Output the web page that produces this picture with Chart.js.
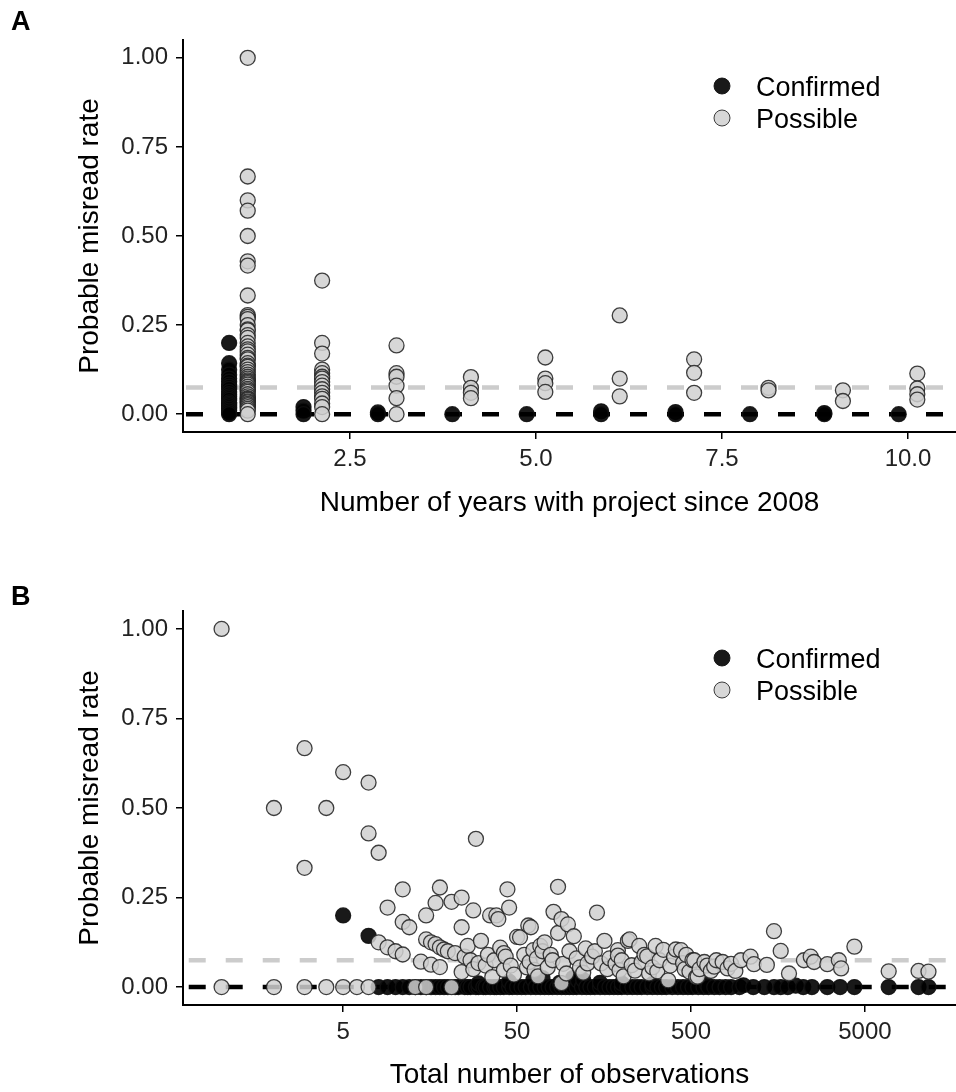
<!DOCTYPE html>
<html>
<head>
<meta charset="utf-8">
<title>Probable misread rate</title>
<script src="https://cdn.jsdelivr.net/npm/chart.js@4.4.1/dist/chart.umd.min.js"></script>
<style>
  html, body { margin: 0; padding: 0; background: #fff; }
  canvas { display: block; }
</style>
</head>
<body>
<canvas id="panel-a" width="956" height="546"></canvas>
<canvas id="panel-b" width="956" height="546"></canvas>
<script>
// ---------- data ----------
// A: misread rate per observer, grouped by number of years with the project
const years = [1, 2, 3, 4, 5, 6, 7, 8, 9, 10];
const confirmedByYear = [
  [0.2, 0.143, 0.125, 0.111, 0.1, 0.091, 0.083, 0.077, 0.071, 0.0625, 0.056, 0.05, 0.045, 0.04, 0.033, 0.029, 0.025, 0.02, 0.015, 0.01, 0.005, 0],
  [0.02, 0.01, 0],
  [0.005, 0],
  [0],
  [0],
  [0.008, 0],
  [0.006, 0],
  [0],
  [0.003, 0],
  [0]
];
const possibleByYear = [
  [1.0, 0.667, 0.6, 0.571, 0.5, 0.429, 0.417, 0.333, 0.278, 0.273, 0.267, 0.25, 0.238, 0.235, 0.222, 0.214,
   0.2, 0.19, 0.182, 0.176, 0.167, 0.158, 0.154, 0.143, 0.136, 0.133, 0.125, 0.118, 0.111, 0.105, 0.1, 0.095,
   0.091, 0.087, 0.083, 0.077, 0.071, 0.067, 0.0625, 0.056, 0.05, 0.045, 0.043, 0.04, 0.036, 0.033, 0.029,
   0.025, 0.02, 0.015, 0.01, 0],
  [0.375, 0.2, 0.17, 0.125, 0.115, 0.105, 0.1, 0.09, 0.08, 0.07, 0.06, 0.05, 0.043, 0.03, 0.02, 0],
  [0.193, 0.115, 0.105, 0.08, 0.045, 0],
  [0.104, 0.074, 0.06, 0.045],
  [0.159, 0.1, 0.087, 0.0625],
  [0.277, 0.1, 0.05],
  [0.154, 0.116, 0.06],
  [0.074, 0.0667],
  [0.067, 0.037],
  [0.114, 0.072, 0.056, 0.041]
];

// B: misread rate per observer against total observations [observations, rate]
const confirmedByObs = [
  [5, 0.2], [7, 0.143],
  [8, 0], [9, 0], [10, 0], [11, 0], [12, 0], [13, 0], [14, 0], [15, 0], [16, 0], [17, 0], [18, 0], [19, 0],
  [20, 0], [22, 0], [23, 0], [25, 0], [26, 0], [27, 0], [29, 0], [30, 0], [30, 0.01], [32, 0], [33, 0], [35, 0],
  [37, 0], [38, 0], [40, 0], [42, 0], [45, 0], [45, 0.015], [47, 0], [50, 0], [53, 0], [56, 0], [60, 0],
  [62, 0.02], [64, 0], [68, 0], [70, 0.025], [72, 0], [76, 0], [80, 0], [85, 0], [88, 0.012], [90, 0], [95, 0],
  [100, 0], [105, 0], [105, 0.025], [110, 0], [112, 0.018], [118, 0], [120, 0.02], [125, 0], [132, 0],
  [140, 0], [150, 0], [150, 0.012], [160, 0], [170, 0], [180, 0], [190, 0], [200, 0], [200, 0.01], [215, 0],
  [230, 0], [245, 0], [260, 0], [280, 0], [300, 0], [300, 0.008], [320, 0], [340, 0], [360, 0], [390, 0],
  [420, 0], [450, 0], [480, 0], [510, 0], [550, 0], [590, 0], [620, 0.006], [630, 0], [680, 0], [730, 0],
  [790, 0], [850, 0], [950, 0], [1000, 0.005], [1140, 0], [1320, 0], [1500, 0], [1640, 0], [1800, 0],
  [2000, 0.004], [2210, 0], [2480, 0], [3040, 0], [3600, 0], [4350, 0], [6850, 0], [10170, 0], [11600, 0]
];
const possibleByObs = [
  [1, 1.0], [1, 0], [2, 0.5], [2, 0], [3, 0.667], [3, 0.333], [3, 0], [4, 0.5], [4, 0], [5, 0.6], [5, 0],
  [6, 0], [7, 0.571], [7, 0.429], [7, 0], [8, 0.375], [8, 0.125], [9, 0.222], [9, 0.111], [10, 0.1],
  [11, 0.273], [11, 0.182], [11, 0.091], [12, 0.167], [13, 0], [14, 0.071], [15, 0.2], [15, 0.133], [15, 0],
  [16, 0.125], [16, 0.0625], [17, 0.235], [17, 0.12], [18, 0.278], [18, 0.111], [18, 0.056], [19, 0.105],
  [20, 0.1], [21, 0.238], [21, 0], [22, 0.095], [24, 0.25], [24, 0.167], [24, 0.042], [25, 0.085],
  [26, 0.115], [27, 0.075], [28, 0.214], [28, 0.05], [29, 0.414], [30, 0.067], [31, 0.129], [33, 0.06],
  [34, 0.09], [35, 0.2], [36, 0.028], [37, 0.075], [38, 0.2], [39, 0.19], [40, 0.11], [42, 0.095],
  [42, 0.048], [43, 0.085], [44, 0.273], [45, 0.222], [46, 0.06], [48, 0.035], [50, 0.14], [52, 0.139],
  [55, 0.09], [57, 0.055], [58, 0.172], [59, 0.07], [60, 0.167], [62, 0.103], [63, 0.048], [65, 0.08],
  [66, 0.03], [68, 0.115], [70, 0.1], [72, 0.125], [75, 0.055], [78, 0.09], [80, 0.075], [81, 0.21],
  [86, 0.28], [86, 0.151], [90, 0.19], [90, 0.011], [92, 0.065], [96, 0.038], [98, 0.175], [100, 0.1],
  [106, 0.142], [110, 0.08], [115, 0.055], [120, 0.04], [124, 0.108], [127, 0.066], [135, 0.085],
  [140, 0.1], [144, 0.208], [152, 0.066], [159, 0.129], [165, 0.05], [170, 0.08], [184, 0.065],
  [190, 0.103], [190, 0.088], [194, 0.047], [200, 0.075], [205, 0.03], [217, 0.129], [222, 0.133],
  [228, 0.061], [238, 0.046], [252, 0.115], [260, 0.07], [270, 0.09], [280, 0.086], [287, 0.038],
  [300, 0.055], [313, 0.115], [320, 0.044], [330, 0.075], [347, 0.104], [370, 0.019], [380, 0.06],
  [400, 0.085], [409, 0.105], [438, 0.103], [450, 0.067], [460, 0.05], [470, 0.09], [490, 0.043],
  [510, 0.075], [522, 0.075], [535, 0.028], [546, 0.029], [560, 0.05], [597, 0.07], [620, 0.06],
  [650, 0.045], [680, 0.057], [700, 0.075], [760, 0.07], [811, 0.052], [850, 0.065], [900, 0.045],
  [968, 0.075], [1100, 0.085], [1150, 0.064], [1365, 0.062], [1500, 0.156], [1640, 0.101], [1830, 0.038],
  [2230, 0.075], [2440, 0.085], [2550, 0.07], [3040, 0.064], [3540, 0.075], [3650, 0.052], [4350, 0.113],
  [6850, 0.044], [10170, 0.045], [11600, 0.043]
];

// axis ticks and reference levels
const rateTicks = [0, 0.25, 0.5, 0.75, 1];
const yearTicks = [2.5, 5, 7.5, 10];
const obsTicks = [5, 50, 500, 5000];
const refLevels = [0, 0.075];

// ---------- styling ----------
const FONT = '"Liberation Sans", Arial, Helvetica, sans-serif';
Chart.defaults.font.family = FONT;
Chart.defaults.color = '#000';

const DODGE = 0.125;
const RATE_RANGE = [-0.05, 1.05];
const YEAR_RANGE = [0.255, 10.645];
const OBS_RANGE = [0.622, 16700];

const seriesStyle = {
  Confirmed: { fill: 'rgba(0, 0, 0, 0.9)', edge: 'rgba(15, 15, 15, 0.9)', order: 2 },
  Possible: { fill: 'rgba(208, 208, 208, 0.85)', edge: 'rgba(30, 30, 30, 0.85)', order: 1 }
};
const refStyle = [
  { color: '#000', order: 3 },
  { color: '#cccccc', order: 4 }
];

function pointSet(label, points) {
  const s = seriesStyle[label];
  return {
    label,
    data: points,
    backgroundColor: s.fill,
    borderColor: s.edge,
    pointRadius: 7.5,
    pointHoverRadius: 7.5,
    pointBorderWidth: 1.3,
    order: s.order
  };
}

function refLines(xRange) {
  return refLevels.map((lvl, i) => ({
    type: 'line',
    label: 'ref' + i,
    data: [{ x: xRange[0], y: lvl }, { x: xRange[1], y: lvl }],
    borderColor: refStyle[i].color,
    borderWidth: 4.5,
    borderDash: [17, 20],
    borderDashOffset: -3,
    pointRadius: 0,
    order: refStyle[i].order
  }));
}

// panel letter and the little legend key in the top right
const panelExtras = {
  id: 'panelExtras',
  afterDraw(chart, args, opts) {
    const { ctx } = chart;
    ctx.save();
    ctx.fillStyle = '#000';
    ctx.textBaseline = 'alphabetic';
    ctx.font = 'bold 27px ' + FONT;
    ctx.fillText(opts.letter, 11, opts.letterY);

    ctx.font = '27px ' + FONT;
    ['Confirmed', 'Possible'].forEach((label, i) => {
      const s = seriesStyle[label];
      const y = opts.keyY + i * 32;
      ctx.beginPath();
      ctx.arc(opts.keyX, y, 8, 0, Math.PI * 2);
      ctx.fillStyle = s.fill;
      ctx.fill();
      ctx.lineWidth = 1;
      ctx.strokeStyle = s.edge;
      ctx.stroke();
      ctx.fillStyle = '#000';
      ctx.fillText(label, opts.keyX + 34, y + 9.5);
    });
    ctx.restore();
  }
};

function rateAxis() {
  return {
    min: RATE_RANGE[0],
    max: RATE_RANGE[1],
    afterBuildTicks: s => { s.ticks = rateTicks.map(v => ({ value: v })); },
    afterFit: s => { s.width = 183; },
    ticks: { callback: v => v.toFixed(2), font: { size: 24 }, color: '#222', padding: 8 },
    grid: { drawOnChartArea: false, drawTicks: true, tickLength: 7, color: '#000', lineWidth: 1.5 },
    border: { display: true, color: '#000', width: 2 },
    title: { display: true, text: 'Probable misread rate', font: { size: 28 }, color: '#000', padding: { top: 73 } }
  };
}

function makeChart(id, opts) {
  return new Chart(document.getElementById(id), {
    type: 'scatter',
    data: {
      datasets: [
        pointSet('Confirmed', opts.confirmed),
        pointSet('Possible', opts.possible),
        ...refLines(opts.xRange)
      ]
    },
    options: {
      responsive: false,
      animation: false,
      events: [],
      layout: { autoPadding: false, padding: { top: opts.top, right: 0, bottom: 0, left: 0 } },
      plugins: {
        legend: { display: false },
        tooltip: { enabled: false },
        panelExtras: opts.extras
      },
      scales: {
        x: {
          type: opts.xType,
          min: opts.xRange[0],
          max: opts.xRange[1],
          afterBuildTicks: s => { s.ticks = opts.xTicks.map(v => ({ value: v })); },
          afterFit: s => { s.height = opts.xHeight; },
          ticks: {
            callback: opts.tickFormat,
            autoSkip: false,
            maxRotation: 0,
            font: { size: 24 },
            color: '#222',
            padding: 6
          },
          grid: { drawOnChartArea: false, drawTicks: true, tickLength: 7, color: '#000', lineWidth: 1.5 },
          border: { display: true, color: '#000', width: 2 },
          title: { display: true, text: opts.xTitle, font: { size: 28 }, color: '#000', padding: { bottom: opts.titlePad } }
        },
        y: rateAxis()
      }
    },
    plugins: [panelExtras]
  });
}

// A: years, with confirmed and possible nudged either side of each year
const confirmedA = [];
const possibleA = [];
years.forEach((yr, i) => {
  confirmedByYear[i].forEach(r => confirmedA.push({ x: yr - DODGE, y: r }));
  possibleByYear[i].forEach(r => possibleA.push({ x: yr + DODGE, y: r }));
});

makeChart('panel-a', {
  confirmed: confirmedA,
  possible: possibleA,
  xType: 'linear',
  xRange: YEAR_RANGE,
  xTicks: yearTicks,
  tickFormat: v => v.toFixed(1),
  xTitle: 'Number of years with project since 2008',
  top: 40,
  xHeight: 114,
  titlePad: 26,
  extras: { letter: 'A', letterY: 30, keyX: 722, keyY: 86 }
});

makeChart('panel-b', {
  confirmed: confirmedByObs.map(([n, r]) => ({ x: n, y: r })),
  possible: possibleByObs.map(([n, r]) => ({ x: n, y: r })),
  xType: 'logarithmic',
  xRange: OBS_RANGE,
  xTicks: obsTicks,
  tickFormat: v => String(v),
  xTitle: 'Total number of observations',
  top: 65,
  xHeight: 87,
  titlePad: 0,
  extras: { letter: 'B', letterY: 59, keyX: 722, keyY: 112 }
});
</script>
</body>
</html>
